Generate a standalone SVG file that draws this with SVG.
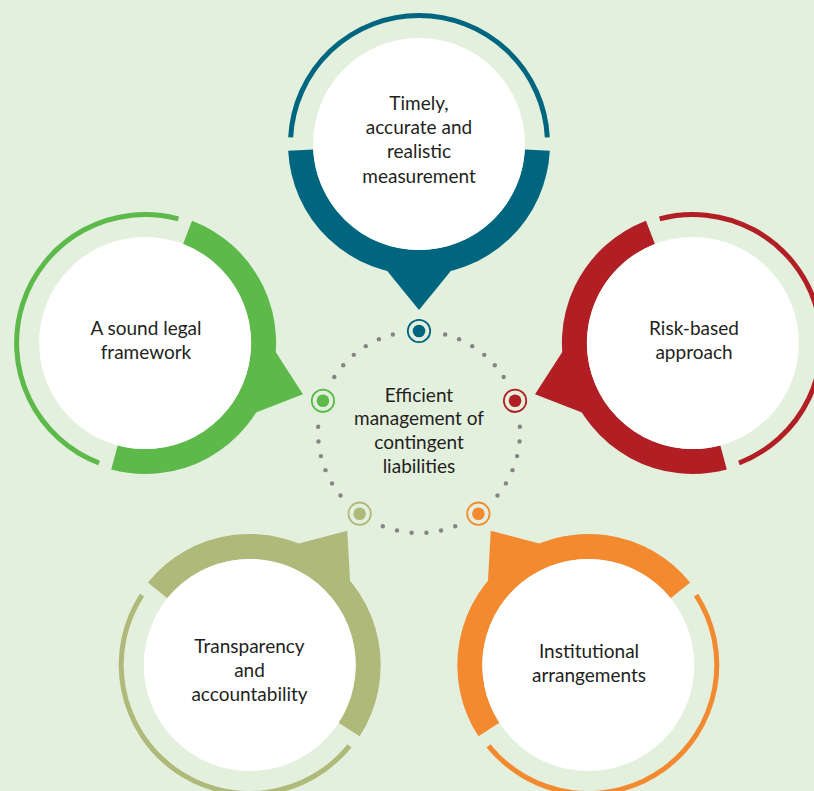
<svg xmlns="http://www.w3.org/2000/svg" width="814" height="791" viewBox="0 0 814 791">
<style>
.bg{fill:#E3F0DE}
.band{fill:none;stroke-width:25}
.thin{fill:none;stroke-width:5}
.ptr{stroke:none}
.face{fill:#FFFFFF}
.lbl{font-family:Lato,"Open Sans",sans-serif;font-size:19px;fill:#231F20;text-anchor:middle}
.dot{fill:#858585}
.ring{fill:none;stroke-width:1.8}
</style>
<rect class="bg" x="0" y="0" width="814" height="791"/>

<g id="connectors">
<g id="dots">
<circle class="dot" cx="445.14" cy="334.44" r="2.2"/>
<circle class="dot" cx="459.11" cy="339.31" r="2.2"/>
<circle class="dot" cx="472.22" cy="346.16" r="2.2"/>
<circle class="dot" cx="484.19" cy="354.86" r="2.2"/>
<circle class="dot" cx="494.76" cy="365.21" r="2.2"/>
<circle class="dot" cx="503.71" cy="377.01" r="2.2"/>
<circle class="dot" cx="519.86" cy="426.71" r="2.2"/>
<circle class="dot" cx="519.55" cy="441.50" r="2.2"/>
<circle class="dot" cx="517.08" cy="456.09" r="2.2"/>
<circle class="dot" cx="512.51" cy="470.16" r="2.2"/>
<circle class="dot" cx="505.93" cy="483.41" r="2.2"/>
<circle class="dot" cx="497.49" cy="495.56" r="2.2"/>
<circle class="dot" cx="455.20" cy="526.29" r="2.2"/>
<circle class="dot" cx="441.03" cy="530.57" r="2.2"/>
<circle class="dot" cx="426.40" cy="532.73" r="2.2"/>
<circle class="dot" cx="411.60" cy="532.73" r="2.2"/>
<circle class="dot" cx="396.97" cy="530.57" r="2.2"/>
<circle class="dot" cx="382.80" cy="526.29" r="2.2"/>
<circle class="dot" cx="318.14" cy="426.71" r="2.2"/>
<circle class="dot" cx="318.45" cy="441.50" r="2.2"/>
<circle class="dot" cx="320.92" cy="456.09" r="2.2"/>
<circle class="dot" cx="325.49" cy="470.16" r="2.2"/>
<circle class="dot" cx="332.07" cy="483.41" r="2.2"/>
<circle class="dot" cx="340.51" cy="495.56" r="2.2"/>
<circle class="dot" cx="392.86" cy="334.44" r="2.2"/>
<circle class="dot" cx="378.89" cy="339.31" r="2.2"/>
<circle class="dot" cx="365.78" cy="346.16" r="2.2"/>
<circle class="dot" cx="353.81" cy="354.86" r="2.2"/>
<circle class="dot" cx="343.24" cy="365.21" r="2.2"/>
<circle class="dot" cx="334.29" cy="377.01" r="2.2"/>
</g>
<g id="markers">
<circle class="ring" cx="419" cy="331" r="11.2" stroke="#006680"/>
<circle cx="419" cy="331" r="6.3" fill="#006680"/>
<circle class="ring" cx="515.06" cy="400.79" r="11.2" stroke="#B11F24"/>
<circle cx="515.06" cy="400.79" r="6.3" fill="#B11F24"/>
<circle class="ring" cx="478.37" cy="513.71" r="11.2" stroke="#F48A30"/>
<circle cx="478.37" cy="513.71" r="6.3" fill="#F48A30"/>
<circle class="ring" cx="359.63" cy="513.71" r="11.2" stroke="#AFB979"/>
<circle cx="359.63" cy="513.71" r="6.3" fill="#AFB979"/>
<circle class="ring" cx="322.94" cy="400.79" r="11.2" stroke="#5CB94A"/>
<circle cx="322.94" cy="400.79" r="6.3" fill="#5CB94A"/>
</g>
</g>

<g id="node-center">
<text class="lbl" x="419" y="401.7"><tspan x="419">Efficient</tspan><tspan x="419" dy="23.7">management of</tspan><tspan x="419" dy="23.7">contingent</tspan><tspan x="419" dy="23.7">liabilities</tspan></text>
</g>

<g id="node-timely">
<g transform="translate(419,144) rotate(90)" stroke="#006680" fill="#006680">
<path class="thin" d="M -6.726 128.324 A 128.5 128.5 0 0 1 -6.726 -128.324"/>
<path class="band" d="M 6.202 -118.338 A 118.5 118.5 0 0 1 6.202 118.338"/>
<polygon class="ptr" points="166,0 112,-44 112,44"/>
</g>
<circle class="face" cx="419" cy="144" r="106"/>
<text class="lbl" x="419" y="110"><tspan x="419">Timely,</tspan><tspan x="419" dy="24.2">accurate and</tspan><tspan x="419" dy="24.2">realistic</tspan><tspan x="419" dy="24.2">measurement</tspan></text>
</g>

<g id="node-risk">
<g transform="translate(692.9,343) rotate(162)" stroke="#B11F24" fill="#B11F24">
<path class="thin" d="M -6.726 128.324 A 128.5 128.5 0 0 1 -6.726 -128.324"/>
<path class="band" d="M 6.202 -118.338 A 118.5 118.5 0 0 1 6.202 118.338"/>
<polygon class="ptr" points="166,0 112,-44 112,44"/>
</g>
<circle class="face" cx="692.9" cy="343" r="106"/>
<text class="lbl" x="694" y="335"><tspan x="694">Risk-based</tspan><tspan x="694" dy="23.7">approach</tspan></text>
</g>

<g id="node-institutional">
<g transform="translate(588.3,665) rotate(234)" stroke="#F48A30" fill="#F48A30">
<path class="thin" d="M -6.726 128.324 A 128.5 128.5 0 0 1 -6.726 -128.324"/>
<path class="band" d="M 6.202 -118.338 A 118.5 118.5 0 0 1 6.202 118.338"/>
<polygon class="ptr" points="166,0 112,-44 112,44"/>
</g>
<circle class="face" cx="588.3" cy="665" r="106"/>
<text class="lbl" x="589" y="658.3"><tspan x="589">Institutional</tspan><tspan x="589" dy="23.7">arrangements</tspan></text>
</g>

<g id="node-transparency">
<g transform="translate(249.7,665) rotate(306)" stroke="#AFB979" fill="#AFB979">
<path class="thin" d="M -6.726 128.324 A 128.5 128.5 0 0 1 -6.726 -128.324"/>
<path class="band" d="M 6.202 -118.338 A 118.5 118.5 0 0 1 6.202 118.338"/>
<polygon class="ptr" points="166,0 112,-44 112,44"/>
</g>
<circle class="face" cx="249.7" cy="665" r="106"/>
<text class="lbl" x="249.5" y="653.3"><tspan x="249.5">Transparency</tspan><tspan x="249.5" dy="24">and</tspan><tspan x="249.5" dy="24">accountability</tspan></text>
</g>

<g id="node-legal">
<g transform="translate(145.1,343) rotate(18)" stroke="#5CB94A" fill="#5CB94A">
<path class="thin" d="M -6.726 128.324 A 128.5 128.5 0 0 1 -6.726 -128.324"/>
<path class="band" d="M 6.202 -118.338 A 118.5 118.5 0 0 1 6.202 118.338"/>
<polygon class="ptr" points="166,0 112,-44 112,44"/>
</g>
<circle class="face" cx="145.1" cy="343" r="106"/>
<text class="lbl" x="146" y="335"><tspan x="146">A sound legal</tspan><tspan x="146" dy="23.7">framework</tspan></text>
</g>
</svg>
